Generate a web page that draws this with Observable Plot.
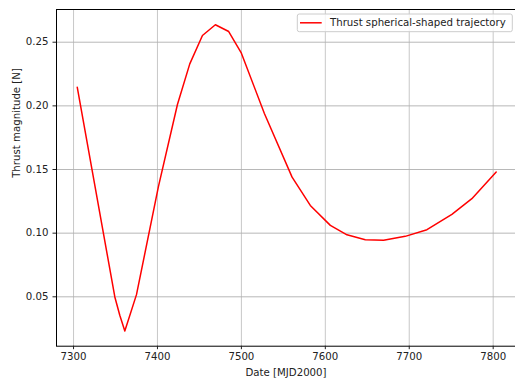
<!DOCTYPE html>
<html>
<head>
<meta charset="utf-8">
<script src="https://cdn.jsdelivr.net/npm/d3@7"></script>
<script src="https://cdn.jsdelivr.net/npm/@observablehq/plot@0.6"></script>
<style>
  html, body { margin: 0; padding: 0; background: #fff; }
  #chart svg { display: block; }
</style>
</head>
<body>
<div id="chart"></div>
<script>
const dates = [7304.4, 7349.2, 7355.1, 7361.1, 7375.0, 7401.2, 7423.8, 7438.5, 7453.6, 7469.0, 7484.9, 7500.0, 7527.4, 7560.4, 7582.1, 7606.0, 7625.8, 7647.6, 7669.4, 7695.2, 7721.1, 7750.8, 7774.6, 7803.6];
const thrust = [0.2147, 0.0499, 0.0355, 0.0232, 0.0517, 0.1367, 0.2011, 0.2330, 0.2553, 0.2637, 0.2584, 0.2414, 0.1940, 0.1440, 0.1218, 0.1061, 0.0987, 0.0949, 0.0944, 0.0975, 0.1027, 0.1148, 0.1271, 0.1480];
const xTicks = [7300, 7400, 7500, 7600, 7700, 7800];
const yTicks = [0.05, 0.10, 0.15, 0.20, 0.25];
const seriesName = "Thrust spherical-shaped trajectory";
const xLabel = "Date [MJD2000]";
const yLabel = "Thrust magnitude [N]";

const data = dates.map((d, i) => ({date: d, thrust: thrust[i]}));
const FONT = "DejaVu Sans, sans-serif";
const FS = 10.2;

const plot = Plot.plot({
  width: 515,
  height: 383,
  marginLeft: 56,
  marginRight: 0,
  marginTop: 9,
  marginBottom: 37.3,
  style: {fontFamily: FONT, fontSize: FS + "px", color: "#222", background: "#fff"},
  x: {domain: [7279.7, 7826.6], ticks: xTicks, label: null},
  y: {domain: [0.0112, 0.2757], ticks: yTicks, label: null},
  marks: [
    Plot.gridX(xTicks, {stroke: "#b0b0b0", strokeOpacity: 0.7, strokeWidth: 1}),
    Plot.gridY(yTicks, {stroke: "#b0b0b0", strokeOpacity: 0.9, strokeWidth: 1}),
    Plot.line(data, {x: "date", y: "thrust", stroke: "red", strokeWidth: 1.5}),
    Plot.frame({stroke: "#000", strokeWidth: 1}),
    Plot.axisX(xTicks, {tickSize: 3.5, tickPadding: 3.5, tickFormat: d => String(d), fontSize: FS, label: null}),
    Plot.axisY(yTicks, {tickSize: 3.5, tickPadding: 4.5, tickFormat: d3.format(".2f"), fontSize: FS, label: null}),
    Plot.text([xLabel], {frameAnchor: "bottom", dy: 27, lineAnchor: "middle", fontSize: FS, fill: "#222"}),
    Plot.text([yLabel], {frameAnchor: "left", dx: -40, rotate: -90, lineAnchor: "middle", fontSize: FS, fill: "#222"})
  ]
});
document.getElementById("chart").appendChild(plot);

// Legend (matplotlib-style, upper right)
const svg = d3.select(plot);
const lg = svg.append("g").attr("font-family", FONT).attr("font-size", FS).attr("text-anchor", "start");
lg.append("rect").attr("x", 297.3).attr("y", 14).attr("width", 215).attr("height", 17.7)
  .attr("rx", 2).attr("fill", "#fff").attr("fill-opacity", 0.8).attr("stroke", "#ccc").attr("stroke-width", 1);
lg.append("line").attr("x1", 300).attr("x2", 321.7).attr("y1", 22.8).attr("y2", 22.8)
  .attr("stroke", "red").attr("stroke-width", 1.5);
lg.append("text").attr("x", 330).attr("y", 22.8).attr("dy", "0.35em").attr("fill", "#222").text(seriesName);
</script>
</body>
</html>
